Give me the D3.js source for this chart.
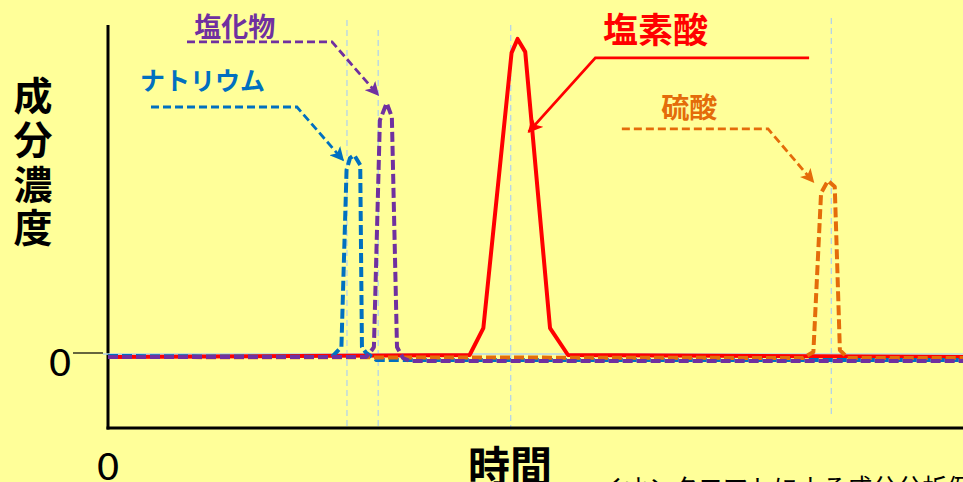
<!DOCTYPE html>
<html><head><meta charset="utf-8">
<script src="https://cdn.jsdelivr.net/npm/d3@7"></script>
<style>
html,body{margin:0;padding:0;background:#ffff99;overflow:hidden;}
svg{display:block;}
text{font-family:"Noto Sans CJK JP","Noto Sans",sans-serif;}
</style></head>
<body>
<svg id="chart" width="963" height="482"></svg>
<script>
// ---- data (time in arbitrary units 0-100, concentration in arbitrary units) ----
const timeNa  = [0, 26.2, 27.3, 27.9, 28.3, 28.8, 29.5, 29.7, 30.2, 31.4, 100];
const valueNa = [0, -0.3, 2.7, 56, 59.6, 60.5, 57.5, 2.7, 0.9, -1.2, -1.2];

const timeCl  = [0, 30.2, 30.7, 31.1, 31.8, 32.6, 33.2, 33.8, 34.5, 35.3, 100];
const valueCl = [-0.3, -0.3, 1.2, 2.7, 71, 76.2, 72, 2.7, -0.6, -1.5, -1.5];

const timeClO3  = [0, 42.3, 43.9, 47.2, 47.9, 48.8, 51.7, 53.8, 100];
const valueClO3 = [-0.3, 0.3, 8.4, 91.3, 95.5, 91.6, 8.4, 0.3, -0.3];

const timeSO4  = [0, 81.3, 82.5, 83.4, 84.2, 85.0, 85.6, 86.5, 100];
const valueSO4 = [-0.3, -0.6, 1.2, 49.1, 52.8, 51.0, 1.8, -0.6, -0.6];

const seriesNames = ["ナトリウム", "塩化物", "塩素酸", "硫酸"];
const peakTimes = [27.95, 31.6, 47.1, 84.6];
const yTickLabels = ["0"];
const xTickLabels = ["0"];
const xTitle = "時間";
const yTitle = ["成", "分", "濃", "度"];
const caption = "イオンクロマトによる成分分析例";

// ---- layout ----
const svg = d3.select("#chart");
const x = d3.scaleLinear().domain([0, 100]).range([108, 963]);
const y = d3.scaleLinear().domain([0, 100]).range([356, 24]);
const yMin = -21.7;

const colors = {na: "#0070c0", cl: "#7030a0", clo3: "#ff0000", so4: "#e46c0a"};

// defs: arrow markers
const defs = svg.append("defs");
function marker(id, color, size) {
  defs.append("marker").attr("id", id).attr("viewBox", "0 0 10 10")
    .attr("refX", 9).attr("refY", 5).attr("markerWidth", size).attr("markerHeight", size)
    .attr("markerUnits", "userSpaceOnUse").attr("orient", "auto")
    .append("path").attr("d", "M0,0 L10,5 L0,10 L2.5,5 Z").attr("fill", color);
}
marker("arNa", colors.na, 14);
marker("arCl", colors.cl, 14);
marker("arClO3", colors.clo3, 15);
marker("arSO4", colors.so4, 14);

// guide lines (light blue dashed)
const guideTop = [101.2, 98.2, 99.7, 101.8];
const guideBottom = [yMin, yMin, yMin, -17.8];
peakTimes.forEach((t, i) => {
  svg.append("line").attr("x1", x(t)).attr("x2", x(t))
    .attr("y1", y(guideTop[i])).attr("y2", y(guideBottom[i]))
    .attr("stroke", "#b4d4ea").attr("stroke-width", 1.3).attr("stroke-dasharray", "6,4");
});

// axes
svg.append("line").attr("x1", x(0)).attr("x2", x(0)).attr("y1", y(100) + 1).attr("y2", y(yMin) + 1.5)
  .attr("stroke", "#000").attr("stroke-width", 3);
svg.append("line").attr("x1", x(0) - 1.5).attr("x2", 963).attr("y1", y(yMin)).attr("y2", y(yMin))
  .attr("stroke", "#000").attr("stroke-width", 3);

// zero tick at left
svg.append("line").attr("x1", 73).attr("x2", 103).attr("y1", y(0) - 3).attr("y2", y(0) - 3)
  .attr("stroke", "#000").attr("stroke-width", 1.2);
svg.append("text").attr("x", 60).attr("y", y(0) + 20).attr("text-anchor", "middle")
  .attr("font-size", 38).attr("fill", "#000").attr("font-family", "'Liberation Sans',Arial,sans-serif")
  .attr("transform", `translate(60,${y(0)}) scale(1.12,1) translate(-60,${-y(0)})`)
  .text(yTickLabels[0]);
svg.append("text").attr("x", x(0)).attr("y", 480).attr("text-anchor", "middle")
  .attr("font-size", 38).attr("fill", "#000").attr("font-family", "'Liberation Sans',Arial,sans-serif")
  .attr("transform", `translate(${x(0)},480) scale(1.12,1) translate(${-x(0)},-480)`)
  .text(xTickLabels[0]);

// light blue baseline
svg.append("line").attr("x1", 103).attr("x2", 963).attr("y1", y(0) - 2).attr("y2", y(0) - 2)
  .attr("stroke", "#b4d4ea").attr("stroke-width", 1.5);

// series lines
const line = d3.line().x(d => x(d[0])).y(d => y(d[1]));
function drawSeries(times, vals, color, width, dash) {
  svg.append("path").datum(times.map((t, i) => [t, vals[i]]))
    .attr("d", line).attr("fill", "none").attr("stroke", color)
    .attr("stroke-width", width).attr("stroke-linejoin", "round")
    .attr("stroke-dasharray", dash);
}
drawSeries(timeClO3, valueClO3, colors.clo3, 4, null);
drawSeries(timeNa, valueNa, colors.na, 4, "10,4");
drawSeries(timeSO4, valueSO4, colors.so4, 4, "10,4");
drawSeries(timeCl, valueCl, colors.cl, 4, "10,4");

// annotations (in data units)
const annotations = [
  {name: seriesNames[0], color: colors.na, marker: "arNa", size: 25, weight: 700,
   tx: 3.74, ty: 80.1, dash: "8,4", w: 2.8, pts: [[5.03, 75.0], [22.1, 75.0], [27.5, 59.0]]},
  {name: seriesNames[1], color: colors.cl, marker: "arCl", size: 27, weight: 700,
   tx: 10.1, ty: 96.0, dash: "8,4", w: 2.8, pts: [[9.24, 94.6], [26.2, 94.6], [31.6, 78.6]]},
  {name: seriesNames[2], color: colors.clo3, marker: "arClO3", size: 35, weight: 700,
   tx: 57.9, ty: 94.3, dash: null, w: 2.8, pts: [[82.0, 89.8], [57.0, 89.8], [49.2, 67.5]]},
  {name: seriesNames[3], color: colors.so4, marker: "arSO4", size: 28, weight: 700,
   tx: 64.7, ty: 71.8, dash: "8,4", w: 2.8, pts: [[60.1, 68.4], [77.2, 68.4], [82.5, 52.4]]}
];
annotations.forEach(a => {
  svg.append("path").datum(a.pts).attr("d", line).attr("fill", "none")
    .attr("stroke", a.color).attr("stroke-width", a.w).attr("stroke-dasharray", a.dash)
    .attr("marker-end", `url(#${a.marker})`);
  svg.append("text").attr("x", x(a.tx)).attr("y", y(a.ty))
    .attr("font-size", a.size).attr("font-weight", a.weight).attr("fill", a.color)
    .text(a.name);
});

// y title (vertical)
const yTitleCenters = [93, 137, 182, 225];
yTitle.forEach((c, i) => {
  svg.append("text").attr("x", 33).attr("y", yTitleCenters[i]).attr("text-anchor", "middle")
    .attr("dominant-baseline", "central").attr("font-size", 39).attr("font-weight", 700)
    .attr("fill", "#000").text(c);
});

// x title
svg.append("text").attr("x", 468).attr("y", 482).attr("font-size", 42).attr("font-weight", 700)
  .attr("fill", "#000").text(xTitle);

// caption (cut off at the bottom)
svg.append("text").attr("x", 598).attr("y", 497).attr("font-size", 25)
  .attr("fill", "#000").text(caption);
</script>
</body></html>
